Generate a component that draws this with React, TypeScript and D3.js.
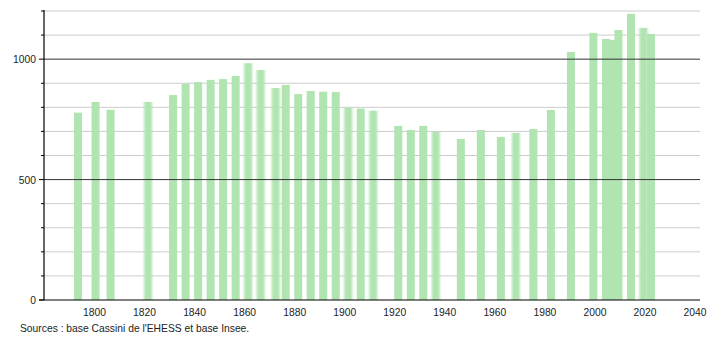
import React from "react";
import * as d3 from "d3";

const years = [1793, 1800, 1806, 1821, 1831, 1836, 1841, 1846, 1851, 1856, 1861, 1866, 1872, 1876, 1881, 1886, 1891, 1896, 1901, 1906, 1911, 1921, 1926, 1931, 1936, 1946, 1954, 1962, 1968, 1975, 1982, 1990, 1999, 2004, 2006, 2009, 2014, 2019, 2022];
const population = [778, 822, 790, 822, 851, 898, 905, 914, 918, 930, 983, 955, 880, 893, 855, 868, 865, 864, 799, 795, 786, 723, 706, 723, 699, 669, 706, 677, 694, 710, 789, 1030, 1109, 1084, 1080, 1121, 1188, 1130, 1105];
const softYears = [1821, 1861, 1866, 1872, 1901, 1911, 1936, 1968, 2019];
const xTicks = [1800, 1820, 1840, 1860, 1880, 1900, 1920, 1940, 1960, 1980, 2000, 2020, 2040];
const yMajor = [0, 500, 1000];
const yMinor = [100, 200, 300, 400, 600, 700, 800, 900, 1100, 1200];
const source = "Sources : base Cassini de l'EHESS et base Insee.";

export default function App() {
  const W = 710, H = 340;
  const left = 44, right = 700, top = 10, bottom = 300;
  const x = d3.scaleLinear().domain([1780, 2040]).range([45.5, 696]);
  const y = d3.scaleLinear().domain([0, 1200]).range([bottom, 11]);
  const barW = 8;
  const font = "'Liberation Sans', Arial, sans-serif";
  const fs = 10.3;
  return (
    <svg width={W} height={H} style={{ position: "absolute", left: 0, top: 0 }}>
      <defs>
        <filter id="soft" x="-50%" y="-5%" width="200%" height="110%">
          <feGaussianBlur stdDeviation="1.1 0.6" />
        </filter>
      </defs>
      <rect width={W} height={H} fill="#fff" />
      {yMinor.map((v) => (
        <g key={"mn" + v}>
          <line x1={left} x2={right} y1={y(v)} y2={y(v)} stroke="#cccccc" strokeWidth={1} />
          <line x1={left - 3} x2={left} y1={y(v)} y2={y(v)} stroke="#000" strokeWidth={1} />
        </g>
      ))}
      {years.map((yr, i) => (
        <rect
          key={yr}
          x={x(yr) - barW / 2}
          y={y(population[i])}
          width={barW}
          height={bottom - y(population[i])}
          fill="#b0e4b0"
          filter={softYears.includes(yr) ? "url(#soft)" : undefined}
        />
      ))}
      {yMajor.filter((v) => v > 0).map((v) => (
        <line key={"mj" + v} x1={left} x2={right} y1={y(v)} y2={y(v)} stroke="#333" strokeWidth={1} />
      ))}
      {yMajor.map((v) => (
        <g key={"lb" + v}>
          <line x1={left - 5} x2={left} y1={y(v)} y2={y(v)} stroke="#000" strokeWidth={1} />
          <text x={left - 8} y={y(v) + 4} textAnchor="end" fontFamily={font} fontSize={fs} fill="#222">
            {v}
          </text>
        </g>
      ))}
      <line x1={left} x2={left} y1={top} y2={bottom} stroke="#000" strokeWidth={1.2} />
      <line x1={left - 5} x2={right} y1={bottom} y2={bottom} stroke="#000" strokeWidth={1.2} />
      {xTicks.map((t) => (
        <text key={t} x={x(t) - 1} y={316} textAnchor="middle" fontFamily={font} fontSize={fs} fill="#222">
          {t}
        </text>
      ))}
      <text x={20} y={332} fontFamily={font} fontSize={fs} fill="#222">
        {source}
      </text>
    </svg>
  );
}
